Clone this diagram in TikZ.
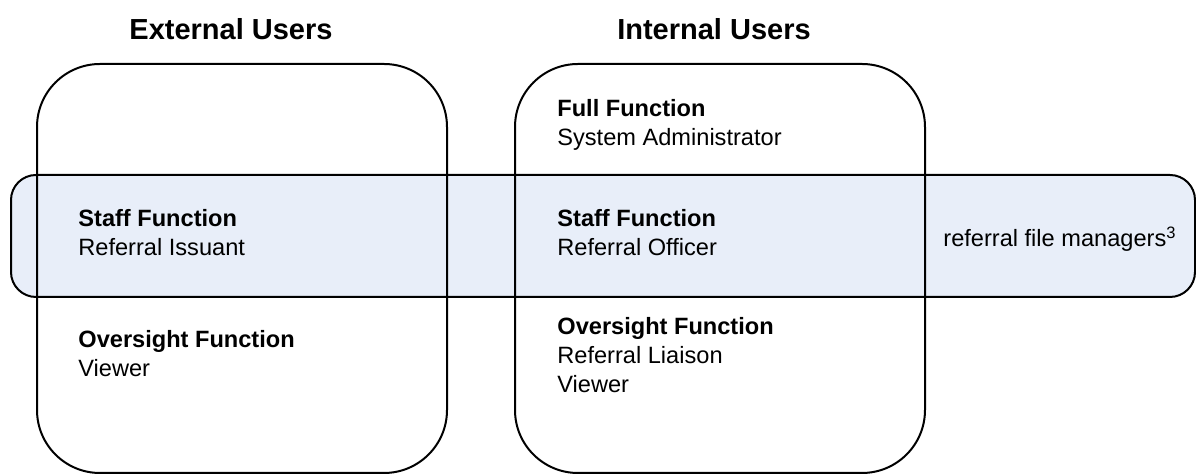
\documentclass[tikz,border=0pt]{standalone}
\usepackage{fontspec}
\setmainfont{Liberation Sans}

\begin{document}
\begin{tikzpicture}[x=0.5pt, y=-0.5pt,
        userbox/.style={draw, line width=1pt, rounded corners=31.5pt, minimum width=205pt, minimum height=204.5pt},
        staffband/.style={draw, line width=1pt, fill=bandblue, rounded corners=12.5pt, minimum width=592pt, minimum height=61pt},
        heading/.style={inner sep=0pt, anchor=base, font=\fontsize{14.5}{17}\selectfont\bfseries},
        lbl/.style={inner sep=0pt, anchor=base west, align=left, font=\fontsize{11.8}{14.5}\selectfont}]
    \definecolor{bandblue}{RGB}{232,238,249}
    \useasboundingbox (0,0) rectangle (1196,474);

    % the staff row runs across both groups
    \node[staffband] (band) at (603,236) {};

    % user groups
    \node[userbox] (ext) at (242,268.5) {};
    \node[userbox] (int) at (720,268.5) {};

    \node[heading] (extTitle) at (231,40) {External Users};
    \node[heading] (intTitle) at (714,40) {Internal Users};

    % external side (base = last line)
    \node[lbl] (extStaff) at (78,256) {\textbf{Staff Function}\\Referral Issuant};
    \node[lbl] (extOver) at (78,377) {\textbf{Oversight Function}\\Viewer};

    % internal side
    \node[lbl] (intFull) at (557,146) {\textbf{Full Function}\\System Administrator};
    \node[lbl] (intStaff) at (557,256) {\textbf{Staff Function}\\Referral Officer};
    \node[lbl] (intOver) at (557,393) {\textbf{Oversight Function}\\Referral Liaison\\Viewer};

    \node[lbl] (managers) at (943,247) {referral file managers\textsuperscript{3}};
\end{tikzpicture}
\end{document}
